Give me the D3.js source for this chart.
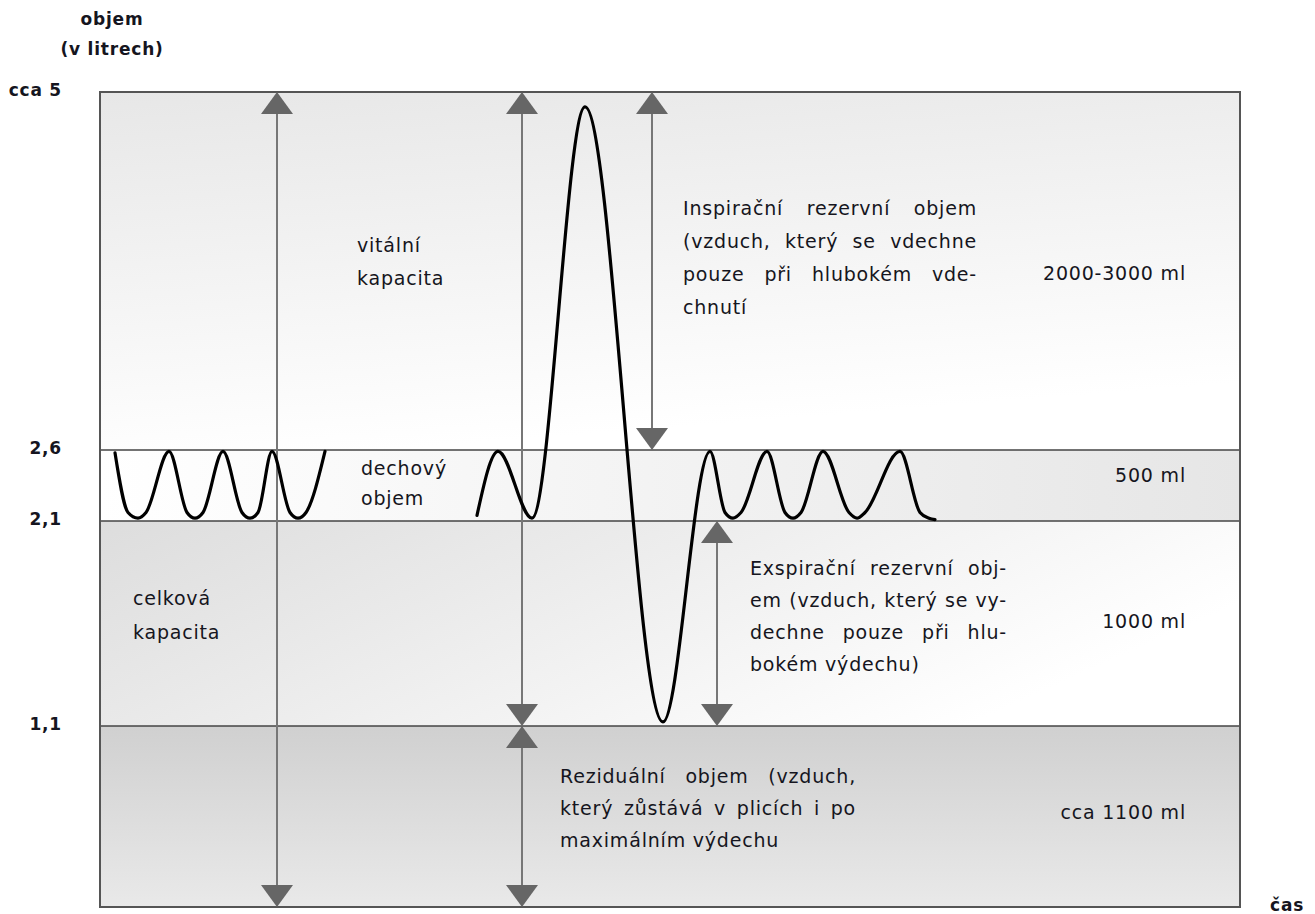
<!DOCTYPE html>
<html>
<head>
<meta charset="utf-8">
<script src="https://cdn.jsdelivr.net/npm/d3@7"></script>
<style>
  body { margin: 0; background: #fff; }
  svg text { font-family: "DejaVu Sans", sans-serif; fill: #151520; }
</style>
</head>
<body>
<svg id="chart" width="1315" height="914"></svg>
<script>
"use strict";

// hladiny objemu (litry) a jejich popisky
const levelValues = [5, 2.6, 2.1, 1.1, 0];
const levelLabels = ["cca 5", "2,6", "2,1", "1,1"];
const bandLabels = ["2000-3000 ml", "500 ml", "1000 ml", "cca 1100 ml"];

// klidné dýchání (čas, objem) - vrcholy, dna a okraje den
const breathATime = [1.5, 2.8, 3.8, 4.6, 6.9, 8.7, 9.5, 10.3, 12.3, 14.2, 15.0, 15.8, 17.2, 19.0, 19.8, 20.6, 22.5];
const breathAVol  = [2.58, 2.16, 2.12, 2.16, 2.59, 2.16, 2.12, 2.16, 2.59, 2.16, 2.12, 2.16, 2.59, 2.16, 2.12, 2.16, 2.59];

// hluboký nádech a výdech, pak opět klidné dýchání
const breathBTime = [37.7, 39.8, 43.2, 48.5, 56.3, 61.0,
                     62.5, 63.3, 64.1, 66.7, 68.5, 69.3, 70.1, 72.3, 74.9, 75.7, 76.5, 80.0, 82.0, 82.9, 83.5];
const breathBVol  = [2.14, 2.59, 2.12, 4.9, 1.12, 2.59,
                     2.16, 2.12, 2.16, 2.59, 2.16, 2.12, 2.16, 2.59, 2.16, 2.12, 2.16, 2.59, 2.16, 2.12, 2.11];

// šipky: čas, od, do
const arrowTime = [17.7, 42.2, 42.2, 55.2, 61.7];
const arrowFrom = [0, 1.1, 0, 2.6, 1.1];
const arrowTo   = [5, 5, 1.1, 5, 2.1];

const svg = d3.select("#chart");
const left = 100, right = 1240;

const x = d3.scaleLinear().domain([0, 114]).range([left, right]);
const y = d3.scaleLinear().domain([0, 1.1, 2.1, 2.6, 5]).range([907, 726, 521, 450, 92]);

// --- přechody pro pásy
const defs = svg.append("defs");
function grad(id, x1, y1, x2, y2, c1, c2) {
  const g = defs.append("linearGradient").attr("id", id)
    .attr("x1", x1).attr("y1", y1).attr("x2", x2).attr("y2", y2);
  g.append("stop").attr("offset", "0%").attr("stop-color", c1);
  g.append("stop").attr("offset", "100%").attr("stop-color", c2);
}
grad("g0", "0", "0", "0.25", "1", "#e7e7e7", "#ffffff");
grad("g1", "0", "0", "1", "0", "#ffffff", "#e6e6e6");
grad("g2", "0", "0", "1", "0.4", "#dddddd", "#ffffff");
grad("g3", "0", "0", "0", "1", "#d0d0d0", "#e9e9e9");

const bands = d3.range(levelValues.length - 1);
svg.append("g").selectAll("rect")
  .data(bands)
  .join("rect")
  .attr("x", left)
  .attr("y", i => y(levelValues[i]))
  .attr("width", right - left)
  .attr("height", i => y(levelValues[i + 1]) - y(levelValues[i]))
  .attr("fill", i => "url(#g" + i + ")");

// vnitřní vodorovné čáry
svg.append("g").selectAll("line")
  .data(levelValues.slice(1, 4))
  .join("line")
  .attr("x1", left).attr("x2", right)
  .attr("y1", d => y(d)).attr("y2", d => y(d))
  .attr("stroke", "#444").attr("stroke-width", 1.6);

// rámeček
svg.append("rect")
  .attr("x", left).attr("y", y(5))
  .attr("width", right - left).attr("height", y(0) - y(5))
  .attr("fill", "none").attr("stroke", "#555").attr("stroke-width", 2);

// --- šipky
const tri = 16, triH = 22;
const ag = svg.append("g");
arrowTime.forEach((t, i) => {
  const ax = x(t), yTop = y(arrowTo[i]), yBot = y(arrowFrom[i]);
  ag.append("line")
    .attr("x1", ax).attr("x2", ax)
    .attr("y1", yTop + 4).attr("y2", yBot - 4)
    .attr("stroke", "#777").attr("stroke-width", 2);
  ag.append("path")
    .attr("d", `M${ax},${yTop}L${ax - tri},${yTop + triH}L${ax + tri},${yTop + triH}Z`)
    .attr("fill", "#666");
  ag.append("path")
    .attr("d", `M${ax},${yBot}L${ax - tri},${yBot - triH}L${ax + tri},${yBot - triH}Z`)
    .attr("fill", "#666");
});

// --- křivka dýchání
const line = d3.line()
  .x(d => x(d[0]))
  .y(d => y(d[1]))
  .curve(d3.curveMonotoneX);

[[breathATime, breathAVol], [breathBTime, breathBVol]].forEach(([ts, vs]) => {
  svg.append("path")
    .datum(d3.zip(ts, vs))
    .attr("d", line)
    .attr("fill", "none")
    .attr("stroke", "#000")
    .attr("stroke-width", 3.2)
    .attr("stroke-linecap", "round")
    .attr("stroke-linejoin", "round");
});

// --- popisky osy
const axisG = svg.append("g").attr("font-weight", "bold").attr("font-size", 17).attr("letter-spacing", 0.8);
axisG.selectAll("text")
  .data(levelLabels)
  .join("text")
  .attr("x", 62)
  .attr("y", (d, i) => y(levelValues[i]) + 4)
  .attr("text-anchor", "end")
  .text(d => d);
axisG.append("text").attr("x", 112).attr("y", 25).attr("text-anchor", "middle").text("objem");
axisG.append("text").attr("x", 112).attr("y", 55).attr("text-anchor", "middle").text("(v litrech)");
axisG.append("text").attr("x", 1270).attr("y", 911).text("čas");

// objemy pásů vpravo
svg.append("g").attr("font-size", 19).attr("letter-spacing", 0.8)
  .selectAll("text")
  .data(bandLabels)
  .join("text")
  .attr("x", 1186)
  .attr("y", (d, i) => [280, 482, 628, 819][i])
  .attr("text-anchor", "end")
  .text(d => d);

// --- odstavce textu (poslední řádek nezarovnaný)
function para(lines, x0, y0, lh, width) {
  const g = svg.append("g").attr("font-size", 19).attr("letter-spacing", 0.8);
  lines.forEach((s, i) => {
    const t = g.append("text").attr("x", x0).attr("y", y0 + i * lh).text(s);
    if (width && i < lines.length - 1) {
      const gaps = s.split(" ").length - 1;
      const w = t.node().getComputedTextLength();
      if (gaps > 0 && w < width) t.attr("word-spacing", (width - w) / gaps);
    }
  });
}

para(["vitální", "kapacita"], 357, 252, 33);
para(["dechový", "objem"], 361, 475, 30);
para(["celková", "kapacita"], 133, 605, 34);
para(["Inspirační rezervní objem", "(vzduch, který se vdechne", "pouze při hlubokém vde-", "chnutí"], 683, 215, 33, 294);
para(["Exspirační rezervní obj-", "em (vzduch, který se vy-", "dechne pouze při hlu-", "bokém výdechu)"], 750, 575, 32, 257);
para(["Reziduální objem (vzduch,", "který zůstává v plicích i po", "maximálním výdechu"], 560, 783, 32, 296);
</script>
</body>
</html>
